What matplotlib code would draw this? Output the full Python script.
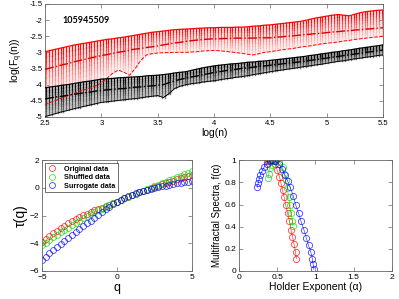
import numpy as np
import matplotlib
matplotlib.use("Agg")
import matplotlib.pyplot as plt
from matplotlib.collections import LineCollection

plt.rcParams["font.family"] = ["Liberation Sans", "DejaVu Sans"]

# ----------------- data -----------------

# top panel: log(n) grid and band edges for each series
log_n = np.round(np.arange(2.5, 5.5001, 0.05), 2)

red_top = [-2.98, -2.94, -2.90, -2.86, -2.82, -2.78, -2.75, -2.72, -2.69, -2.66,
           -2.63, -2.60, -2.58, -2.55, -2.53, -2.50, -2.47, -2.44, -2.41, -2.38,
           -2.36, -2.34, -2.32, -2.30, -2.29, -2.28, -2.27, -2.26, -2.25, -2.24,
           -2.24, -2.23, -2.23, -2.23, -2.22, -2.22, -2.21, -2.19, -2.18, -2.16,
           -2.15, -2.13, -2.11, -2.09, -2.07, -2.05, -2.02, -1.98, -1.94, -1.91,
           -1.88, -1.85, -1.83, -1.85, -1.87, -1.82, -1.77, -1.74, -1.72, -1.70,
           -1.69]
red_mid = [-3.53, -3.48, -3.44, -3.39, -3.35, -3.30, -3.26, -3.22, -3.18, -3.14,
           -3.10, -3.07, -3.03, -3.00, -2.97, -2.93, -2.90, -2.88, -2.85, -2.83,
           -2.80, -2.77, -2.74, -2.71, -2.69, -2.66, -2.64, -2.62, -2.60, -2.59,
           -2.58, -2.58, -2.57, -2.57, -2.56, -2.56, -2.56, -2.56, -2.55, -2.55,
           -2.55, -2.53, -2.52, -2.50, -2.49, -2.47, -2.45, -2.44, -2.42, -2.41,
           -2.39, -2.37, -2.36, -2.34, -2.33, -2.31, -2.30, -2.28, -2.27, -2.25,
           -2.24]
red_bot = [-4.62, -4.55, -4.48, -4.41, -4.35, -4.28, -4.22, -4.16, -4.10, -4.03,
           -3.95, -3.80, -3.65, -3.55, -3.62, -3.71, -3.50, -3.25, -3.08, -3.04,
           -3.02, -3.01, -3.01, -3.00, -3.00, -3.00, -2.99, -2.98, -2.96, -2.95,
           -2.94, -2.95, -2.97, -2.99, -3.01, -3.03, -3.06, -3.08, -3.04, -3.00,
           -2.98, -2.95, -2.92, -2.90, -2.88, -2.85, -2.82, -2.80, -2.77, -2.74,
           -2.72, -2.70, -2.68, -2.65, -2.63, -2.60, -2.58, -2.56, -2.54, -2.52,
           -2.50]

blk_top = [-4.10, -4.07, -4.05, -4.02, -4.00, -3.97, -3.94, -3.91, -3.89, -3.86,
           -3.83, -3.82, -3.81, -3.79, -3.78, -3.77, -3.76, -3.75, -3.73, -3.72,
           -3.71, -3.69, -3.67, -3.64, -3.62, -3.60, -3.56, -3.52, -3.48, -3.45,
           -3.42, -3.40, -3.38, -3.36, -3.35, -3.33, -3.31, -3.30, -3.28, -3.27,
           -3.25, -3.23, -3.21, -3.19, -3.17, -3.15, -3.13, -3.10, -3.08, -3.05,
           -3.03, -3.00, -2.98, -2.95, -2.93, -2.90, -2.87, -2.85, -2.82, -2.80,
           -2.77]
blk_mid = [-4.44, -4.41, -4.38, -4.36, -4.33, -4.30, -4.28, -4.25, -4.23, -4.20,
           -4.18, -4.16, -4.15, -4.13, -4.12, -4.10, -4.08, -4.07, -4.05, -4.04,
           -4.02, -4.00, -3.94, -3.88, -3.84, -3.80, -3.76, -3.73, -3.69, -3.66,
           -3.62, -3.60, -3.57, -3.55, -3.52, -3.50, -3.48, -3.46, -3.44, -3.42,
           -3.40, -3.38, -3.36, -3.34, -3.32, -3.30, -3.28, -3.25, -3.23, -3.20,
           -3.18, -3.15, -3.13, -3.10, -3.08, -3.05, -3.03, -3.00, -2.98, -2.95,
           -2.93]
blk_bot = [-4.99, -4.94, -4.89, -4.84, -4.80, -4.75, -4.71, -4.67, -4.63, -4.59,
           -4.55, -4.53, -4.51, -4.49, -4.47, -4.45, -4.43, -4.41, -4.38, -4.36,
           -4.34, -4.40, -4.28, -4.12, -4.05, -4.00, -3.97, -3.95, -3.92, -3.90,
           -3.88, -3.85, -3.82, -3.80, -3.77, -3.75, -3.72, -3.69, -3.66, -3.63,
           -3.60, -3.57, -3.55, -3.52, -3.50, -3.47, -3.44, -3.42, -3.39, -3.37,
           -3.34, -3.31, -3.28, -3.26, -3.23, -3.20, -3.18, -3.15, -3.13, -3.10,
           -3.08]

series_id = "105945509"

# bottom left: tau(q)
q = np.round(np.arange(-5, 5.001, 0.25), 2)
tau_orig = [-3.94, -3.72, -3.50, -3.29, -3.09, -2.90, -2.72, -2.55, -2.39, -2.24,
            -2.10, -1.97, -1.85, -1.74, -1.63, -1.52, -1.42, -1.31, -1.21, -1.10,
            -1.00, -0.88, -0.76, -0.65, -0.54, -0.44, -0.33, -0.23, -0.13, -0.03,
            0.07, 0.16, 0.25, 0.34, 0.43, 0.52, 0.61, 0.69, 0.77, 0.85, 0.95]
tau_shuf = [-4.15, -3.96, -3.77, -3.58, -3.40, -3.22, -3.04, -2.87, -2.70, -2.53,
            -2.37, -2.21, -2.06, -1.91, -1.76, -1.62, -1.49, -1.36, -1.23, -1.11,
            -1.00, -0.88, -0.76, -0.65, -0.53, -0.42, -0.31, -0.20, -0.09, 0.02,
            0.13, 0.24, 0.35, 0.45, 0.56, 0.67, 0.77, 0.88, 0.98, 1.09, 1.20]
tau_surr = [-5.20, -4.96, -4.73, -4.50, -4.27, -4.05, -3.82, -3.60, -3.39, -3.18,
            -2.97, -2.77, -2.57, -2.38, -2.18, -1.97, -1.76, -1.56, -1.37, -1.18,
            -1.00, -0.85, -0.72, -0.60, -0.49, -0.39, -0.30, -0.22, -0.14, -0.07,
            0.00, 0.06, 0.12, 0.17, 0.23, 0.28, 0.33, 0.38, 0.42, 0.46, 0.50]

# bottom right: singularity spectra
alpha_orig = [0.36, 0.38, 0.40, 0.43, 0.45, 0.47, 0.50, 0.53, 0.55, 0.57, 0.59,
              0.61, 0.635, 0.66, 0.68, 0.70, 0.72, 0.74, 0.75]
f_orig = [0.99, 1.00, 1.00, 1.00, 0.99, 0.97, 0.91, 0.85, 0.79, 0.73, 0.67,
          0.60, 0.52, 0.45, 0.37, 0.31, 0.24, 0.17, 0.11]
alpha_shuf = [0.38, 0.39, 0.40, 0.43, 0.46, 0.48, 0.53, 0.57, 0.59, 0.61, 0.63,
              0.65, 0.665, 0.68, 0.70, 0.705]
f_shuf = [0.84, 0.88, 0.93, 0.96, 0.99, 1.00, 0.985, 0.94, 0.88, 0.82, 0.75,
          0.67, 0.60, 0.52, 0.45, 0.41]
alpha_surr = [0.24, 0.25, 0.265, 0.28, 0.30, 0.33, 0.36, 0.40, 0.43, 0.47, 0.52,
              0.56, 0.60, 0.635, 0.67, 0.71, 0.74, 0.78, 0.81, 0.85, 0.88, 0.91,
              0.94, 0.96, 0.97, 0.98]
f_surr = [0.755, 0.79, 0.83, 0.87, 0.90, 0.94, 0.97, 0.99, 1.00, 0.995, 0.97,
          0.925, 0.87, 0.815, 0.755, 0.68, 0.60, 0.52, 0.45, 0.37, 0.30, 0.23,
          0.17, 0.11, 0.06, 0.015]

legend_labels = ["Original data", "Shuffled data", "Surrogate data"]
colors = ["red", "#00dd00", "blue"]


# ----------------- helpers -----------------

def matlab_box(ax, fs):
    for s in ax.spines.values():
        s.set_color("0.4")
        s.set_linewidth(0.6)
    ax.tick_params(direction="in", top=True, right=True, length=3, width=0.5,
                   color="0.4", labelsize=fs, pad=2)


def gradient_band(ax, x, lo, hi, c_top, c_bot, lw, gamma=1.0, n=10, z=2):
    # vertical strokes at each log(n), shaded from bottom colour to top colour
    x = np.asarray(x)
    lo = np.asarray(lo)
    hi = np.asarray(hi)
    c_top = np.array(c_top)
    c_bot = np.array(c_bot)
    segs, cols = [], []
    for k in range(n):
        t0, t1 = k / n, (k + 1) / n
        tc = ((t0 + t1) / 2) ** gamma
        col = c_bot + (c_top - c_bot) * tc
        for xi, a, b in zip(x, lo, hi):
            for dx in (-0.012, 0.012):
                segs.append([(xi + dx, a + (b - a) * t0), (xi + dx, a + (b - a) * t1)])
                cols.append(col)
    ax.add_collection(LineCollection(segs, colors=cols, linewidths=lw,
                                     capstyle="projecting", zorder=z))


# ----------------- figure -----------------

fig = plt.figure(figsize=(3.99, 2.99), dpi=100)

# top panel
ax = fig.add_axes([0.113, 0.609, 0.847, 0.378])
ax.fill_between(log_n, red_bot, red_top, color=(1, 0.95, 0.95), lw=0, zorder=1)
gradient_band(ax, log_n, red_bot, red_top, (1, 0, 0), (1, 0.85, 0.85), 0.9,
              gamma=1.3, z=2)
ax.fill_between(log_n, blk_bot, blk_top, color="0.88", lw=0, zorder=3)
gradient_band(ax, log_n, blk_bot, blk_top, (0, 0, 0), (0.5, 0.5, 0.5), 1.0,
              gamma=0.9, z=4)
ax.plot(log_n, red_top, color="red", lw=0.9, zorder=5)
ax.plot(log_n, red_mid, color=(0.85, 0, 0), lw=1.0, ls="-.", zorder=5)
ax.plot(log_n, red_bot, color="red", lw=0.7, ls="--", zorder=5)
ax.plot(log_n, blk_top, color="black", lw=0.9, zorder=5)
ax.plot(log_n, blk_mid, color="black", lw=1.0, ls="-.", zorder=5)
ax.plot(log_n, blk_bot, color="black", lw=0.7, zorder=5)
ax.set_xlim(2.5, 5.5)
ax.set_ylim(-5, -1.5)
ax.set_xticks([2.5, 3, 3.5, 4, 4.5, 5, 5.5])
ax.set_yticks([-5, -4.5, -4, -3.5, -3, -2.5, -2, -1.5])
ax.set_xticklabels(["2.5", "3", "3.5", "4", "4.5", "5", "5.5"])
ax.set_yticklabels(["-5", "-4.5", "-4", "-3.5", "-3", "-2.5", "-2", "-1.5"])
matlab_box(ax, 5.5)
ax.set_xlabel("log(n)", fontsize=7.5, labelpad=1)
ax.set_ylabel(r"log(F$_\mathregular{q}$(n))", fontsize=7.5, labelpad=3)
ax.text(2.65, -2.0, series_id, fontsize=6.5, fontweight="bold",
        family=["Lato", "DejaVu Sans"], va="center", ha="left")

# bottom left: tau(q)
ax2 = fig.add_axes([0.105, 0.094, 0.376, 0.37])
for tau, c, lab in zip([tau_orig, tau_shuf, tau_surr], colors, legend_labels):
    ax2.plot(q, tau, ls="none", marker="o", ms=4.3, mfc="none", mec=c,
             mew=0.6, alpha=0.75, label=lab)
ax2.set_xlim(-5, 5)
ax2.set_ylim(-6, 2)
ax2.set_xticks([-5, 0, 5])
ax2.set_yticks([-6, -4, -2, 0, 2])
matlab_box(ax2, 6)
ax2.set_xlabel("q", fontsize=9, labelpad=1)
ax2.set_ylabel("τ(q)", fontsize=10, labelpad=1)
leg = ax2.legend(loc="upper left", frameon=True, fancybox=False,
                 edgecolor="black", borderpad=0.35, handletextpad=1.0,
                 labelspacing=0.2, handlelength=1.3, borderaxespad=0.4,
                 prop={"weight": "bold", "size": 5.2})
leg.get_frame().set_linewidth(0.5)

# bottom right: f(alpha)
ax3 = fig.add_axes([0.599, 0.094, 0.383, 0.37])
for a, f, c in zip([alpha_orig, alpha_shuf, alpha_surr],
                   [f_orig, f_shuf, f_surr], colors):
    ax3.plot(a, f, ls="-", lw=0.5, marker="o", ms=4.5, mfc="none", mec=c,
             color=c, mew=0.6, alpha=0.75)
ax3.set_xlim(0, 2)
ax3.set_ylim(0, 1)
ax3.set_xticks([0, 0.5, 1, 1.5, 2])
ax3.set_xticklabels(["0", "0.5", "1", "1.5", "2"])
ax3.set_yticks([0, 0.2, 0.4, 0.6, 0.8, 1])
ax3.set_yticklabels(["0", "0.2", "0.4", "0.6", "0.8", "1"])
matlab_box(ax3, 6)
ax3.set_xlabel("Holder Exponent (α)", fontsize=7.5, labelpad=1)
ax3.set_ylabel("Multifractal Spectra, f(α)", fontsize=7, labelpad=2)

fig.savefig("out.png", dpi=100)
